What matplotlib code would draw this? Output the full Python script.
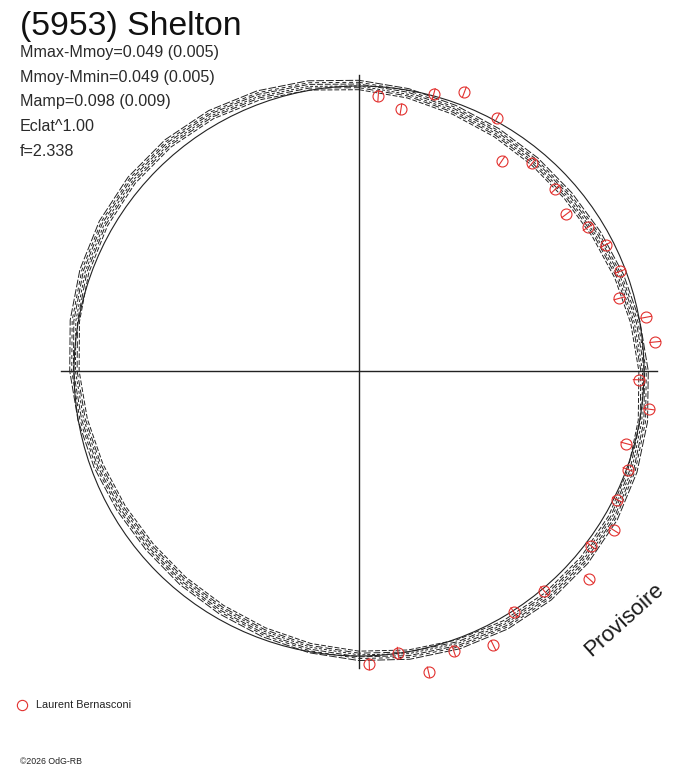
import numpy as np
import matplotlib
matplotlib.use('Agg')
import matplotlib.pyplot as plt

plt.rcParams['font.family'] = ['Liberation Sans', 'DejaVu Sans']

# Red points (Laurent Bernasconi): phase angle in degrees (clockwise from top), polar radius
phase_deg = [4.0, 9.1, 15.1, 20.7, 28.6, 34.2, 39.8, 47.2, 52.9, 57.9,
             62.9, 69.1, 74.4, 79.4, 84.4, 91.8, 97.5, 105.2, 110.1, 116.5,
             122.0, 127.0, 132.1, 139.9, 147.3, 153.9, 161.3, 167.0, 172.1, 178.0]
point_r = [0.967, 0.930, 1.007, 1.046, 1.011, 0.892, 0.948, 0.939, 0.912, 0.948,
           0.972, 0.982, 0.948, 1.025, 1.044, 0.982, 1.027, 0.971, 1.006, 1.013,
           1.055, 1.018, 1.089, 1.009, 1.006, 1.072, 1.037, 1.085, 0.998, 1.030]
point_err = 0.019

# band of other lightcurves: radius every 10 degrees of phase
band_deg = list(range(0, 360, 10))
band_r = [1.004, 0.990, 0.976, 0.966, 0.960, 0.958, 0.962, 0.972, 0.985, 0.999,
          1.012, 1.022, 1.030, 1.033, 1.033, 1.029, 1.021, 1.011, 1.000, 0.988,
          0.976, 0.967, 0.962, 0.960, 0.964, 0.973, 0.985, 0.999, 1.013, 1.026,
          1.036, 1.042, 1.043, 1.039, 1.030, 1.018]
band_offsets = [-0.017, -0.010, -0.004, 0.003, 0.009, 0.016]
band_dashes = [(0, (5, 2)), (2, (7, 3)), (1, (3, 2)), (4, (6, 2)), (0, (4, 3)), (3, (8, 2))]

title = "(5953) Shelton"
info_lines = ["Mmax-Mmoy=0.049 (0.005)", "Mmoy-Mmin=0.049 (0.005)",
              "Mamp=0.098 (0.009)", "Eclat^1.00", "f=2.338"]
observer = "Laurent Bernasconi"

W, H = 688, 768
S = 285.0          # pixels per unit radius
cx, cy = 359, 371  # centre in pixels (from top-left)
red = '#e2312f'
ink = '#222222'

fig = plt.figure(figsize=(W / 100, H / 100), dpi=100)
ax = fig.add_axes([0, 0, 1, 1])
ax.set_xlim(-cx / S, (W - cx) / S)
ax.set_ylim(-(H - cy) / S, cy / S)
ax.axis('off')

# cross
ax.plot([-1.047, 1.047], [0, 0], color=ink, lw=1.0)
ax.plot([0, 0], [-1.043, 1.04], color=ink, lw=1.0)

# reference circle
ax.add_patch(plt.Circle((0, 0), 1.0, fill=False, color=ink, lw=0.8))

# band traces
th = np.radians(band_deg + [band_deg[0]])
rb = np.array(band_r + [band_r[0]])
for off, ls in zip(band_offsets, band_dashes):
    r = rb + off
    ax.plot(r * np.sin(th), r * np.cos(th), color=ink, lw=0.7, linestyle=ls)

# red points with radial error bars
tp = np.radians(phase_deg)
rp = np.array(point_r)
px, py = rp * np.sin(tp), rp * np.cos(tp)
for t, r in zip(tp, rp):
    ax.plot([(r - point_err) * np.sin(t), (r + point_err) * np.sin(t)],
            [(r - point_err) * np.cos(t), (r + point_err) * np.cos(t)],
            color=red, lw=0.8)
ax.plot(px, py, 'o', ms=7.9, mfc='none', mec=red, mew=0.8)

# texts
def ftext(x, y, s, **kw):
    fig.text(x / W, 1 - y / H, s, **kw)

ftext(20, 34.5, title, fontsize=24.3, color='#111111', va='baseline')
for i, line in enumerate(info_lines):
    ftext(20, 57 + i * 24.7, line, fontsize=11.6, color='#2a2a2a', va='baseline')

ftext(624, 620, "Provisoire", fontsize=16, rotation=42, color='#1a1a1a',
      ha='center', va='center', rotation_mode='anchor')

fig.add_artist(plt.Line2D([22.3 / W], [1 - 704.5 / H], marker='o', ms=7.4,
                          mfc='none', mec=red, mew=0.8, transform=fig.transFigure))
ftext(36, 705, observer, fontsize=7.8, color='#222222', va='center')
ftext(20, 763.5, "\u00a92026 OdG-RB", fontsize=6.3, color='#222222', va='baseline')

fig.savefig('out.png', dpi=100)
